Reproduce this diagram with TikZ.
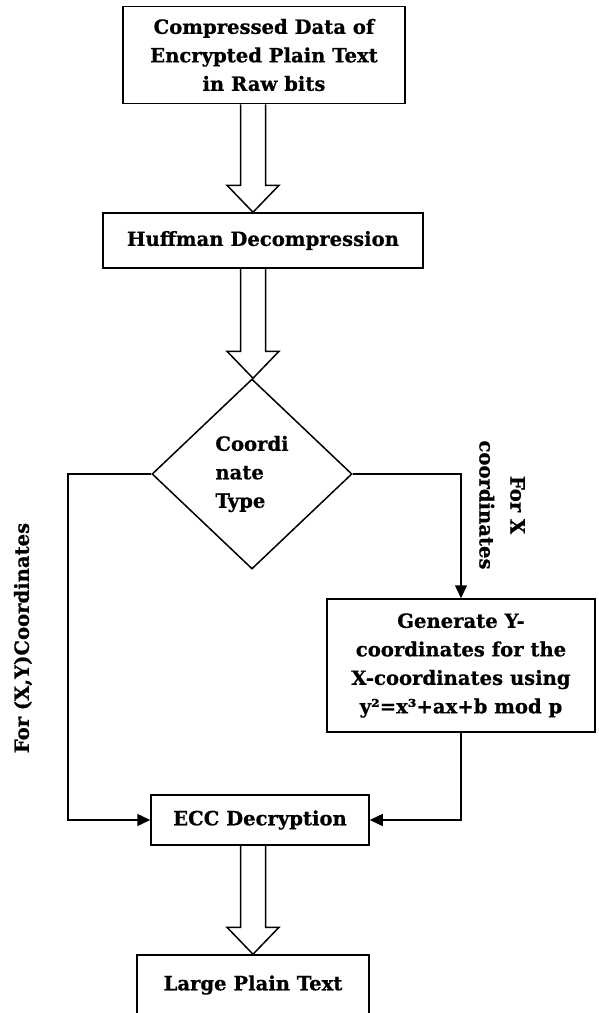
\documentclass[tikz,border=0pt]{standalone}
\usepackage{fontspec}
\setmainfont{DejaVu Serif}[BoldFeatures={FakeBold=0.6}]
\usetikzlibrary{arrows.meta,shapes.geometric,calc}
\newcommand\hollowarrow[2]{\draw[hollow] let \p1=(#1), \p2=(#2) in
  (\x1-12.5pt,\y1) -- (\x1-12.5pt,\y2+27pt) -- (\x1-26pt,\y2+27pt) -- (\x1,\y2)
  -- (\x1+26pt,\y2+27pt) -- (\x1+12.5pt,\y2+27pt) -- (\x1+12.5pt,\y1);}
\begin{document}
\begin{tikzpicture}[x=1pt,y=-1pt,
  every node/.style={font=\fontsize{19.6}{28.5}\selectfont\bfseries},
  box/.style={draw,line width=1.5pt,align=center,inner sep=0pt},
  conn/.style={line width=1.5pt,-{Triangle[length=13pt,width=12pt]}},
  hollow/.style={line width=1.5pt}]
\clip (0,0) rectangle (598,1013);
\coordinate (ax) at (253,0);
\node[box,minimum width=282,minimum height=97] (src) at (264,55)
  {Compressed Data of\\Encrypted Plain Text\\in Raw bits};
\node[box,minimum width=320,minimum height=55] (huf) at (263,240.5)
  {Huffman Decompression};
\node[draw,diamond,line width=1.5pt,minimum width=200,minimum height=190,
  inner sep=0pt,align=left] (dia) at (252,474) {Coordi\\nate\\Type};
\node[box,minimum width=268,minimum height=133] (gen) at (461,665.5)
  {Generate Y-\\coordinates for the\\X-coordinates using\\y²=x³+ax+b mod p};
\node[box,minimum width=218,minimum height=50] (ecc) at (260,820)
  {ECC Decryption};
\node[box,minimum width=232,minimum height=60] (big) at (253,985)
  {Large Plain Text};
\node[rotate=90] (ll) at (23,638) {For (X,Y)Coordinates};
\node[rotate=-90,align=center,font=\fontsize{19.6}{31}\selectfont\bfseries]
  (rl) at (502,505) {For X\\coordinates};
\hollowarrow{src.south -| ax}{huf.north -| ax}
\hollowarrow{huf.south -| ax}{dia.north -| ax}
\hollowarrow{ecc.south -| ax}{big.north -| ax}
\coordinate (lx) at (68,474);
\draw[conn] (dia.west) -- (lx) |- (ecc.west);
\draw[conn] (dia.east) -| (gen.north);
\draw[conn] (gen.south) |- (ecc.east);
\end{tikzpicture}
\end{document}
